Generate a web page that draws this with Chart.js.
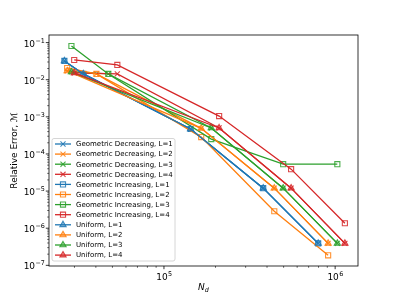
<!DOCTYPE html>
<html>
<head>
<meta charset="utf-8">
<script src="https://cdn.jsdelivr.net/npm/chart.js@4.4.1/dist/chart.umd.min.js"></script>
<style>
  html, body { margin: 0; padding: 0; background: #fff; }
  #wrap { width: 399px; height: 299px; }
</style>
</head>
<body>
<div id="wrap"><canvas id="c"></canvas></div>
<script>
// N_d for each refinement step, one list per number of levels L
const ndL1 = [2.62e4, 3.38e4, 1.43e5, 3.80e5, 7.96e5];
const ndL2 = [2.72e4, 4.03e4, 1.65e5, 4.41e5, 9.10e5];
const ndL3 = [2.88e4, 4.73e4, 1.89e5, 4.97e5, 1.03e6];
const ndL4 = [2.99e4, 5.34e4, 2.10e5, 5.53e5, 1.14e6];
// uniform runs skip the second step (L=1 is identical to the geometric ones)
const ndUniL2 = [2.72e4, 1.65e5, 4.41e5, 9.10e5];
const ndUniL3 = [2.88e4, 1.89e5, 4.97e5, 1.03e6];
const ndUniL4 = [2.99e4, 2.10e5, 5.53e5, 1.14e6];

// relative error
const errGeoDecL1 = [3.2e-2, 1.43e-2, 4.7e-4, 1.2e-5, 3.9e-7];
const errGeoDecL2 = [1.72e-2, 1.43e-2, 4.9e-4, 1.2e-5, 3.9e-7];
const errGeoDecL3 = [1.62e-2, 1.43e-2, 5.0e-4, 1.2e-5, 3.9e-7];
const errGeoDecL4 = [1.52e-2, 1.43e-2, 5.0e-4, 1.2e-5, 3.9e-7];

const errGeoIncL1 = [3.2e-2, 1.43e-2, 4.7e-4, 1.2e-5, 3.9e-7];
const errGeoIncL2 = [2.07e-2, 1.43e-2, 2.85e-4, 2.86e-6, 1.86e-7];
const errGeoIncL3 = [8.1e-2, 1.43e-2, 2.52e-4, 5.3e-5, 5.3e-5];
const errGeoIncL4 = [3.4e-2, 2.5e-2, 1.05e-3, 3.9e-5, 1.36e-6];

const errUniL1 = [3.2e-2, 1.43e-2, 4.7e-4, 1.2e-5, 3.9e-7];
const errUniL2 = [1.72e-2, 4.9e-4, 1.2e-5, 3.9e-7];
const errUniL3 = [1.62e-2, 5.0e-4, 1.2e-5, 3.9e-7];
const errUniL4 = [1.52e-2, 5.0e-4, 1.2e-5, 3.9e-7];

const xMajorExp = [5, 6];
const yMajorExp = [-7, -6, -5, -4, -3, -2, -1];

const COLORS = ['#1f77b4', '#ff7f0e', '#2ca02c', '#d62728'];
const FONT = '"DejaVu Sans", sans-serif';

function pts(xs, ys) {
  return xs.map((x, i) => ({ x, y: ys[i] }));
}

function alpha(hex, a) {
  const n = parseInt(hex.slice(1), 16);
  return `rgba(${n >> 16}, ${(n >> 8) & 255}, ${n & 255}, ${a})`;
}

const series = [
  ['Geometric Decreasing, L=1', ndL1, errGeoDecL1, 'crossRot', 0],
  ['Geometric Decreasing, L=2', ndL2, errGeoDecL2, 'crossRot', 1],
  ['Geometric Decreasing, L=3', ndL3, errGeoDecL3, 'crossRot', 2],
  ['Geometric Decreasing, L=4', ndL4, errGeoDecL4, 'crossRot', 3],
  ['Geometric Increasing, L=1', ndL1, errGeoIncL1, 'rect', 0],
  ['Geometric Increasing, L=2', ndL2, errGeoIncL2, 'rect', 1],
  ['Geometric Increasing, L=3', ndL3, errGeoIncL3, 'rect', 2],
  ['Geometric Increasing, L=4', ndL4, errGeoIncL4, 'rect', 3],
  ['Uniform, L=1', ndL1, errUniL1, 'triangle', 0],
  ['Uniform, L=2', ndUniL2, errUniL2, 'triangle', 1],
  ['Uniform, L=3', ndUniL3, errUniL3, 'triangle', 2],
  ['Uniform, L=4', ndUniL4, errUniL4, 'triangle', 3]
];

const datasets = series.map(([label, xs, ys, style, ci], i) => {
  const c = COLORS[ci];
  let bg = 'rgba(0,0,0,0)';
  if (style === 'triangle') bg = alpha(c, 0.45);
  return {
    label,
    data: pts(xs, ys),
    borderColor: c,
    borderWidth: 1.3,
    pointStyle: style,
    pointRadius: 3.6,
    pointBorderWidth: 1.1,
    pointBorderColor: alpha(c, 0.85),
    pointBackgroundColor: bg,
    tension: 0,
    fill: false,
    order: series.length - 1 - i   // later series on top, like matplotlib
  };
});

// "10" with a superscript exponent
function drawPow(ctx, exp, x, y, align) {
  const base = '10';
  const sup = exp < 0 ? '\u2212' + Math.abs(exp) : String(exp);
  ctx.font = `9px ${FONT}`;
  const wb = ctx.measureText(base).width;
  ctx.font = `6.4px ${FONT}`;
  const ws = ctx.measureText(sup).width;
  const w = wb + ws;
  let left = align === 'right' ? x - w : x - w / 2;
  ctx.textAlign = 'left';
  ctx.textBaseline = 'alphabetic';
  ctx.font = `9px ${FONT}`;
  ctx.fillText(base, left, y);
  ctx.font = `6.4px ${FONT}`;
  ctx.fillText(sup, left + wb + 0.3, y - 4);
}

const AxesPlugin = {
  id: 'mplAxes',
  afterDraw(chart) {
    const { ctx, chartArea: a, scales } = chart;
    const xs = scales.x, ys = scales.y;
    ctx.save();
    ctx.fillStyle = '#000';
    ctx.strokeStyle = '#000';

    // frame
    ctx.lineWidth = 0.8;
    ctx.strokeRect(a.left, a.top, a.right - a.left, a.bottom - a.top);

    // x ticks
    for (let e = 4; e <= 6; e++) {
      for (let m = 1; m <= 9; m++) {
        const v = m * Math.pow(10, e);
        if (v < xs.min || v > xs.max) continue;
        const px = xs.getPixelForValue(v);
        const major = m === 1;
        ctx.lineWidth = major ? 0.8 : 0.6;
        ctx.beginPath();
        ctx.moveTo(px, a.bottom);
        ctx.lineTo(px, a.bottom + (major ? 3.2 : 1.8));
        ctx.stroke();
      }
    }
    xMajorExp.forEach(e => drawPow(ctx, e, xs.getPixelForValue(Math.pow(10, e)), a.bottom + 13.5, 'center'));

    // y ticks
    for (let e = -8; e <= -1; e++) {
      for (let m = 1; m <= 9; m++) {
        const v = m * Math.pow(10, e);
        if (v < ys.min || v > ys.max) continue;
        const py = ys.getPixelForValue(v);
        const major = m === 1;
        ctx.lineWidth = major ? 0.8 : 0.6;
        ctx.beginPath();
        ctx.moveTo(a.left, py);
        ctx.lineTo(a.left - (major ? 3.2 : 1.8), py);
        ctx.stroke();
      }
    }
    yMajorExp.forEach(e => drawPow(ctx, e, a.left - 4.5, ys.getPixelForValue(Math.pow(10, e)) + 4, 'right'));

    // x title: N_d
    const cx = (a.left + a.right) / 2;
    ctx.font = `italic 9px ${FONT}`;
    const wn = ctx.measureText('N').width;
    ctx.font = `italic 6.4px ${FONT}`;
    const wd = ctx.measureText('d').width;
    const lx = cx - (wn + wd) / 2;
    ctx.textAlign = 'left';
    ctx.textBaseline = 'alphabetic';
    ctx.font = `italic 9px ${FONT}`;
    ctx.fillText('N', lx, 290);
    ctx.font = `italic 6.4px ${FONT}`;
    ctx.fillText('d', lx + wn, 292);

    // y title
    ctx.save();
    ctx.translate(15, (a.top + a.bottom) / 2);
    ctx.rotate(-Math.PI / 2);
    ctx.textAlign = 'center';
    ctx.textBaseline = 'middle';
    ctx.font = `9px ${FONT}`;
    ctx.fillText('Relative Error, \u2133', 0, 0);
    ctx.restore();

    // legend
    const lx0 = 52, ly0 = 138.5, lw = 123, lh = 122.5;
    ctx.beginPath();
    if (ctx.roundRect) ctx.roundRect(lx0, ly0, lw, lh, 2);
    else ctx.rect(lx0, ly0, lw, lh);
    ctx.fillStyle = 'rgba(255,255,255,0.8)';
    ctx.fill();
    ctx.strokeStyle = '#cccccc';
    ctx.lineWidth = 0.8;
    ctx.stroke();

    chart.data.datasets.forEach((ds, i) => {
      const ry = 144 + i * 10.1;
      ctx.strokeStyle = ds.borderColor;
      ctx.lineWidth = ds.borderWidth;
      ctx.beginPath();
      ctx.moveTo(55, ry);
      ctx.lineTo(71, ry);
      ctx.stroke();
      ctx.strokeStyle = ds.pointBorderColor;
      ctx.fillStyle = ds.pointBackgroundColor;
      ctx.lineWidth = ds.pointBorderWidth;
      Chart.helpers.drawPoint(ctx, {
        pointStyle: ds.pointStyle,
        radius: ds.pointRadius,
        rotation: 0,
        borderWidth: ds.pointBorderWidth
      }, 63, ry);
      ctx.fillStyle = '#000';
      ctx.font = `7px ${FONT}`;
      ctx.textAlign = 'left';
      ctx.textBaseline = 'middle';
      ctx.fillText(ds.label, 76, ry + 0.5);
    });
    ctx.restore();
  }
};

new Chart(document.getElementById('c'), {
  type: 'line',
  data: { datasets },
  plugins: [AxesPlugin],
  options: {
    responsive: true,
    maintainAspectRatio: false,
    animation: false,
    layout: { padding: { left: 49, right: 41, top: 35, bottom: 33 } },
    plugins: {
      legend: { display: false },
      tooltip: { enabled: false }
    },
    scales: {
      x: { type: 'logarithmic', min: 2.13e4, max: 1.36e6, display: false },
      y: { type: 'logarithmic', min: 9.6e-8, max: 0.16, display: false }
    }
  }
});
</script>
</body>
</html>
